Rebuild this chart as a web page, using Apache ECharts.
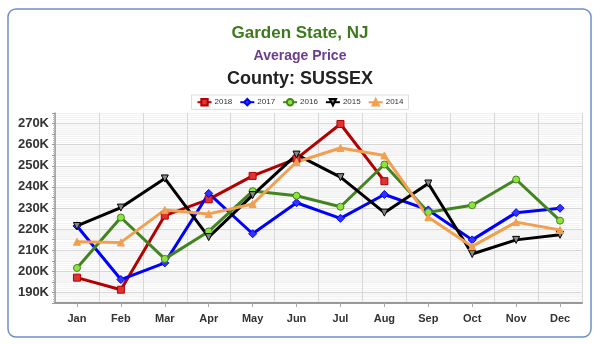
<!DOCTYPE html>
<html><head><meta charset="utf-8">
<script src="https://cdn.jsdelivr.net/npm/echarts@6/dist/echarts.min.js"></script>
<style>html,body{margin:0;padding:0;background:#fff}#c{width:600px;height:344px}</style>
</head><body><div id="c"></div>
<script>
const months = ['Jan','Feb','Mar','Apr','May','Jun','Jul','Aug','Sep','Oct','Nov','Dec'];
const s2018 = [197, 191.3, 226.4, 234.1, 245.2, 253.4, 269.8, 242.7, null, null, null, null];
const s2017 = [221.5, 196.1, 204, 236.9, 217.8, 232.5, 225.1, 236.4, 229.1, 214.9, 227.8, 229.9];
const s2016 = [201.6, 225.5, 205.9, 218.9, 238, 235.8, 230.6, 250.6, 228, 231.3, 243.5, 224];
const s2015 = [221.5, 230.2, 244, 216.2, 236.1, 255.3, 244.6, 227.8, 241.6, 208.2, 214.9, 217.3];
const s2014 = [214, 213.7, 229.1, 227.2, 231.9, 251.8, 258.4, 254.9, 225.6, 211.8, 223.3, 219.6];

const chart = echarts.init(document.getElementById('c'), null, {renderer:'canvas'});
function ser(name, data, color, symbol, fill, rotate) {
  return {
    name, type:'line', data, symbol, symbolSize: symbol==='diamond'?8:7, symbolRotate: rotate||0,
    connectNulls:false,
    lineStyle:{color, width:3},
    itemStyle:{color: fill, borderColor: color, borderWidth:1},
    emphasis:{disabled:true}
  };
}
chart.setOption({
  animation:false,
  backgroundColor:'#fff',
  graphic:[{type:'rect', shape:{x:8,y:9,width:583,height:328,r:8}, style:{fill:'transparent', stroke:'#6f8fc9', lineWidth:1.5}, z:-1}],
  title:[
    {text:'Garden State, NJ', left:'center', top:20, textStyle:{color:'#3c7a1c', fontSize:17, fontWeight:'bold', fontFamily:'Liberation Sans, Arial'}},
    {text:'Average Price', left:'center', top:44, textStyle:{color:'#6b3d8c', fontSize:14, fontWeight:'bold', fontFamily:'Liberation Sans, Arial'}},
    {text:'County: SUSSEX', left:'center', top:65, textStyle:{color:'#222', fontSize:18, fontWeight:'bold', fontFamily:'Liberation Sans, Arial'}}
  ],
  legend:{
    top:95, left:'center', itemWidth:14, itemHeight:8, itemGap:7,
    padding:[3,5], borderColor:'#ddd', borderWidth:1, backgroundColor:'#fff',
    textStyle:{fontSize:8, color:'#333', fontFamily:'Liberation Sans, Arial', padding:[0,0,0,-2]},
    data:['2018','2017','2016','2015','2014']
  },
  grid:{left:55, right:18, top:113, bottom:41},
  xAxis:{
    type:'category', data:months, boundaryGap:true,
    axisLine:{lineStyle:{color:'#999', width:2}},
    axisTick:{show:true, alignWithLabel:true, length:4, lineStyle:{color:'#aaa'}},
    axisLabel:{color:'#333', fontWeight:'bold', fontSize:11, margin:10, fontFamily:'Liberation Sans, Arial'},
    splitLine:{show:true, interval:0, lineStyle:{color:'#d8d8d8'}}
  },
  yAxis:{
    type:'value', min:185, max:275, interval:5,
    axisLine:{show:true, lineStyle:{color:'#999', width:1.5}},
    axisTick:{show:true, length:3, inside:false, lineStyle:{color:'#999'}},
    minorTick:{show:true, splitNumber:5, length:2, lineStyle:{color:'#bbb'}},
    axisLabel:{color:'#333', fontWeight:'bold', fontSize:13, margin:6, fontFamily:'Liberation Sans, Arial',
      formatter: v => (Math.round(v) % 10 === 0 ? Math.round(v) + 'K' : '')},
    splitLine:{show:true, lineStyle:{color:['#eeeeee','#d6d6d6']}},
    minorSplitLine:{show:true, lineStyle:{color:'#f3f3f3'}},
    splitArea:{show:true, areaStyle:{color:['#fafafa','#ffffff','#f6f6f6','#ffffff']}}
  },
  series:[
    ser('2018', s2018, '#b30000', 'rect', '#dd3333'),
    ser('2017', s2017, '#0000ff', 'diamond', '#3333ff'),
    ser('2016', s2016, '#428520', 'circle', '#8fe33f'),
    ser('2015', s2015, '#000000', 'triangle', '#888888', 180),
    ser('2014', s2014, '#f0a050', 'triangle', '#f0a050')
  ]
});
</script></body></html>
